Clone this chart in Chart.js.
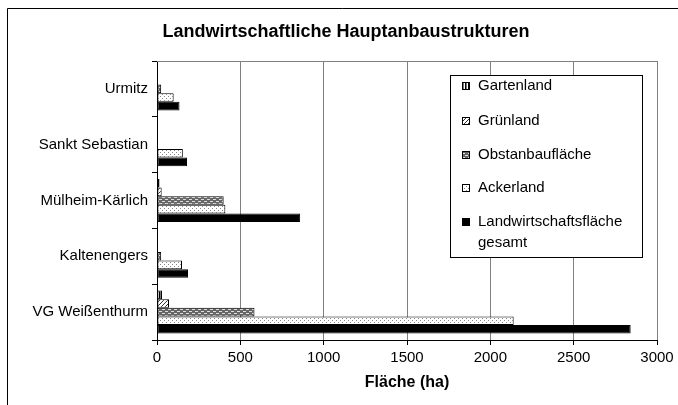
<!DOCTYPE html>
<html><head><meta charset="utf-8">
<script src="https://cdn.jsdelivr.net/npm/chart.js@4/dist/chart.umd.min.js"></script>
<style>html,body{margin:0;padding:0;background:#fff;}canvas{display:block;}</style>
</head><body>
<canvas id="c" width="678" height="405"></canvas>
<script>
const categories = ["Urmitz", "Sankt Sebastian", "Mülheim-Kärlich", "Kaltenengers", "VG Weißenthurm"];
const seriesNames = ["Gartenland", "Grünland", "Obstanbaufläche", "Ackerland", "Landwirtschaftsfläche gesamt"];
const gartenland = [0, 0, 15, 0, 30];
const gruenland = [0, 0, 28, 0, 72];
const obstanbau = [25, 0, 400, 25, 585];
const ackerland = [100, 155, 410, 150, 2140];
const landwGesamt = [135, 180, 859, 186, 2842];
const xTicks = [0, 500, 1000, 1500, 2000, 2500, 3000];
const chartTitle = "Landwirtschaftliche Hauptanbaustrukturen";
const xTitle = "Fläche (ha)";

const FONT = "'Liberation Sans', Arial, sans-serif";

function makePattern(w, h, draw) {
  const c = document.createElement('canvas');
  c.width = w; c.height = h;
  const g = c.getContext('2d');
  draw(g);
  return document.getElementById('c').getContext('2d').createPattern(c, 'repeat');
}
const patGarten = makePattern(3, 1, g => {
  g.fillStyle = '#fff'; g.fillRect(0, 0, 3, 1);
  g.fillStyle = '#000'; g.fillRect(0, 0, 1, 1);
  g.fillStyle = '#777'; g.fillRect(1, 0, 1, 1);
});
const patGruen = makePattern(4, 4, g => {
  g.fillStyle = '#fff'; g.fillRect(0, 0, 4, 4);
  g.fillStyle = '#333';
  for (let i = 0; i < 4; i++) { g.fillRect((3 - i) % 4, i, 1, 1); }
});
const patObst = makePattern(6, 4, g => {
  g.fillStyle = '#666'; g.fillRect(0, 0, 6, 4);
  g.fillStyle = '#ddd';
  g.fillRect(0, 1, 3, 1);
  g.fillRect(3, 3, 3, 1);
});
const patAcker = makePattern(4, 4, g => {
  g.fillStyle = '#fff'; g.fillRect(0, 0, 4, 4);
  g.fillStyle = '#888';
  g.fillRect(0, 0, 1, 1);
  g.fillRect(2, 2, 1, 1);
});
const fills = [patGarten, patGruen, patObst, patAcker, '#000'];
const values = [gartenland, gruenland, obstanbau, ackerland, landwGesamt];

const datasets = seriesNames.map((name, i) => ({
  label: name,
  data: values[i],
  backgroundColor: fills[i],
  borderColor: '#000',
  borderWidth: 1,
  borderSkipped: false,
  barPercentage: 1.0,
  categoryPercentage: 0.77
}));

const decor = {
  id: 'decor',
  beforeDraw(chart) {
    const ctx = chart.ctx;
    ctx.save();
    ctx.fillStyle = '#fff';
    ctx.fillRect(0, 0, chart.width, chart.height);
    ctx.strokeStyle = '#000';
    ctx.lineWidth = 1;
    ctx.beginPath();
    ctx.moveTo(7.5, 405); ctx.lineTo(7.5, 8.5); ctx.lineTo(678, 8.5);
    ctx.stroke();
    ctx.restore();
  },
  afterDatasetsDraw(chart) {
    const ctx = chart.ctx;
    const a = chart.chartArea;
    ctx.save();
    ctx.strokeStyle = '#808080';
    ctx.lineWidth = 1;
    ctx.beginPath();
    ctx.moveTo(a.left, Math.round(a.top) + 0.5); ctx.lineTo(Math.round(a.right) + 0.5, Math.round(a.top) + 0.5);
    ctx.lineTo(Math.round(a.right) + 0.5, a.bottom);
    ctx.stroke();
    // title
    ctx.fillStyle = '#000';
    ctx.font = 'bold 18px ' + FONT;
    ctx.textAlign = 'center';
    ctx.textBaseline = 'middle';
    ctx.fillText(chartTitle, 346, 32);
    // legend
    const lx = 450.5, ly = 75.5, lw = 192, lh = 182;
    ctx.fillStyle = '#fff';
    ctx.fillRect(lx, ly, lw, lh);
    ctx.strokeStyle = '#000';
    ctx.strokeRect(lx, ly, lw, lh);
    const ys = [86, 121, 155, 188, 222];
    ctx.font = '15px ' + FONT;
    ctx.textAlign = 'left';
    chart.data.datasets.forEach((ds, i) => {
      const y = ys[i];
      ctx.fillStyle = ds.backgroundColor;
      ctx.fillRect(462, y - 4, 7, 7);
      ctx.strokeStyle = '#000';
      ctx.strokeRect(462.5, y - 3.5, 7, 7);
      ctx.fillStyle = '#000';
      const words = ds.label.split(' ');
      if (words.length > 1 && ctx.measureText(ds.label).width > 150) {
        ctx.fillText(words[0], 478, y);
        ctx.fillText(words.slice(1).join(' '), 478, y + 21);
      } else {
        ctx.fillText(ds.label, 478, y);
      }
    });
    ctx.restore();
  }
};

new Chart(document.getElementById('c'), {
  type: 'bar',
  data: { labels: categories, datasets },
  options: {
    indexAxis: 'y',
    responsive: false,
    animation: false,
    devicePixelRatio: 1,
    layout: { padding: { left: 0, right: 21, top: 61, bottom: 0 } },
    plugins: { legend: { display: false }, title: { display: false }, tooltip: { enabled: false } },
    scales: {
      x: {
        min: 0, max: 3000,
        afterBuildTicks(scale) { scale.ticks = xTicks.map(v => ({ value: v })); },
        afterFit(scale) { scale.height = 65; },
        grid: { color: '#808080', lineWidth: 1, drawTicks: true, tickLength: 5, tickColor: '#000' },
        border: { color: '#000', width: 1 },
        ticks: { color: '#000', font: { family: FONT, size: 15 }, padding: 4, maxRotation: 0, autoSkip: false,
                 callback: v => String(v) },
        title: { display: true, text: xTitle, color: '#000', font: { family: FONT, size: 16, weight: 'bold' }, padding: { top: 0, bottom: 13 } }
      },
      y: {
        afterFit(scale) { scale.width = 157; },
        grid: { display: true, offset: true, drawOnChartArea: false, drawTicks: true, tickLength: 5, color: '#000', tickColor: '#000' },
        border: { color: '#000', width: 1 },
        ticks: { color: '#000', font: { family: FONT, size: 15 }, padding: 4 }
      }
    }
  },
  plugins: [decor]
});
</script>
</body></html>
